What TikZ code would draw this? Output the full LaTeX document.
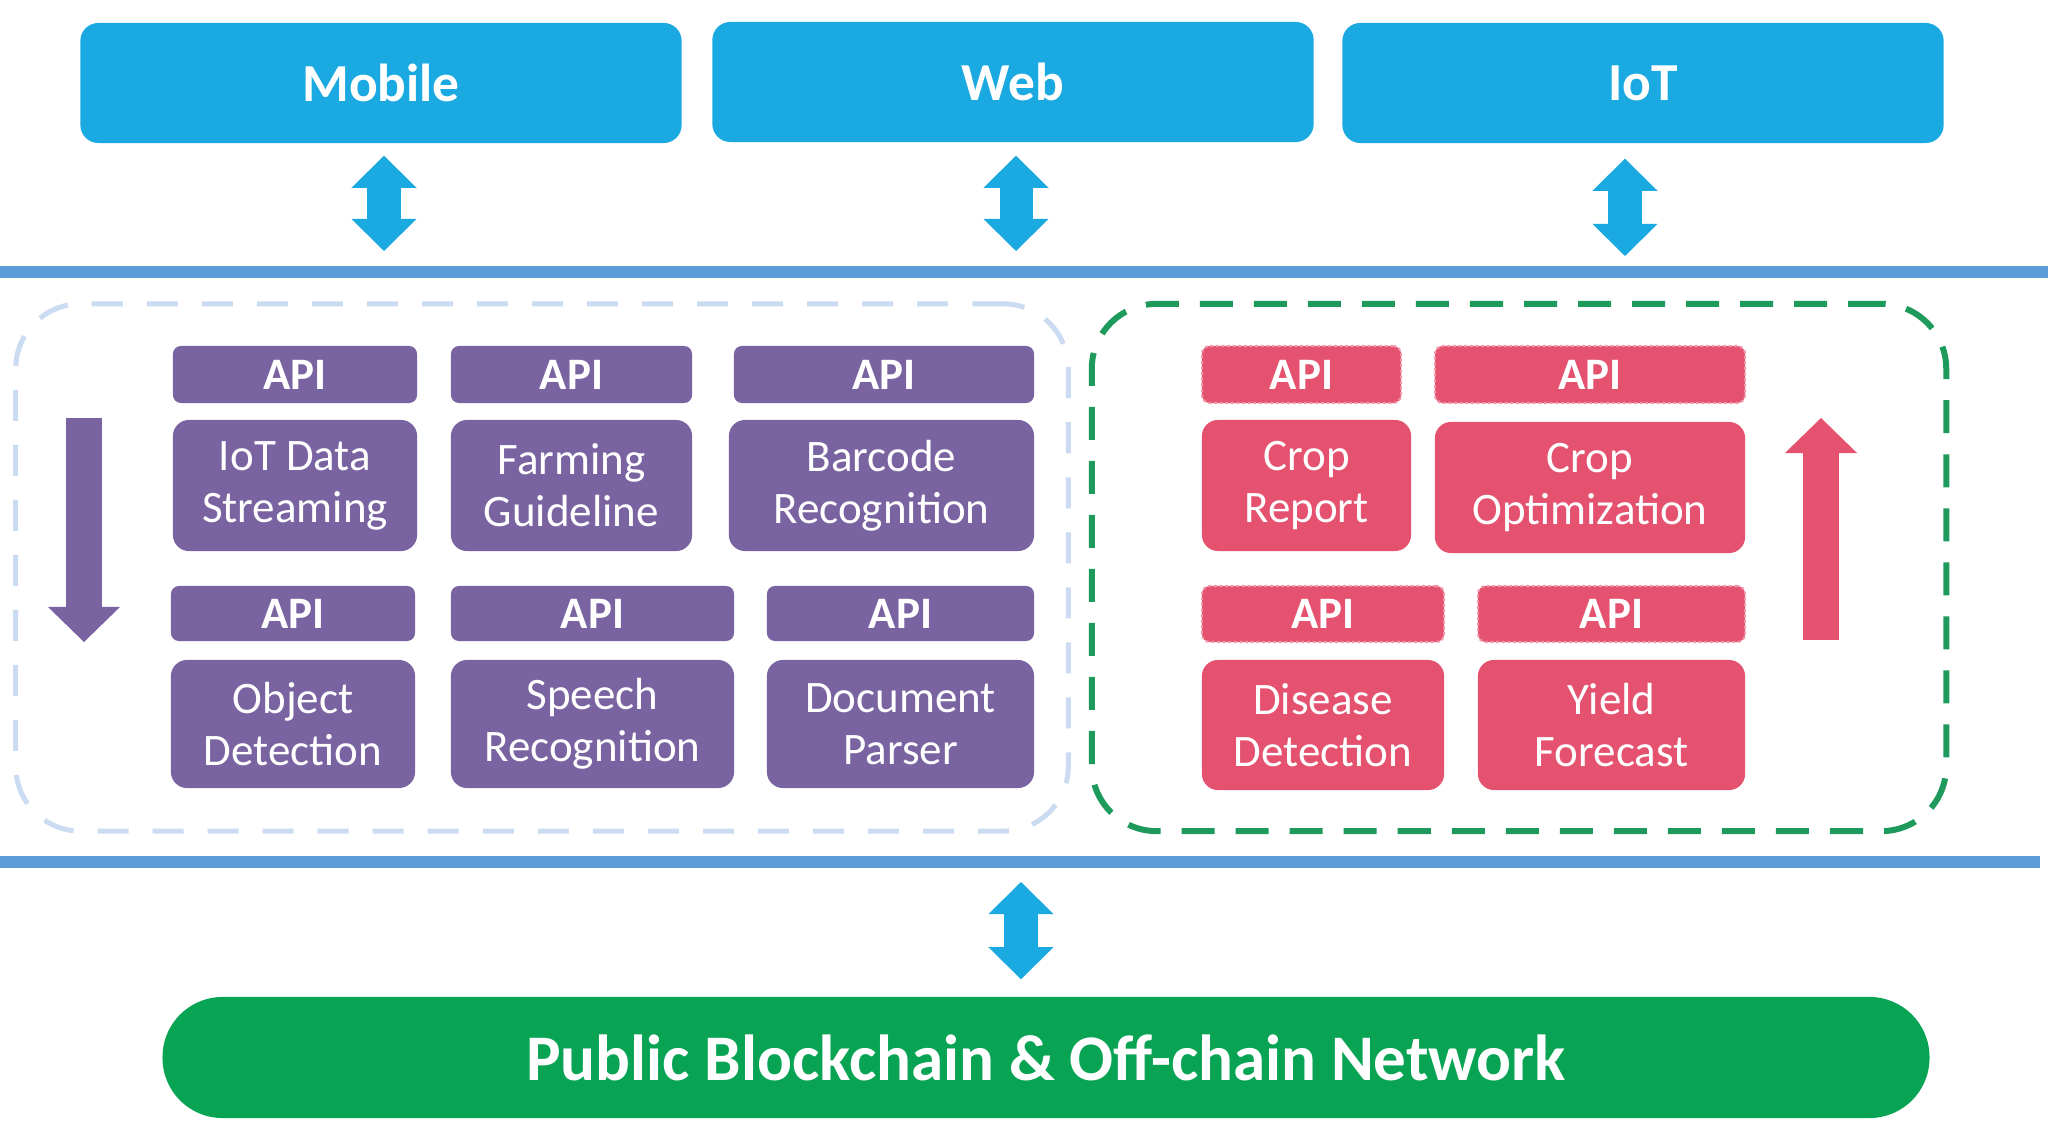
\documentclass[tikz,border=0pt]{standalone}
\usepackage{fontspec}
\setmainfont{Carlito}
\usetikzlibrary{arrows.meta}
\definecolor{topblue}{HTML}{1BA9E1}
\definecolor{busblue}{HTML}{5B9BD8}
\definecolor{svcpurple}{HTML}{7A63A1}
\definecolor{svcred}{HTML}{E4526F}
\definecolor{chaingreen}{HTML}{08A454}
\definecolor{dashblue}{HTML}{CADBF2}
\definecolor{dashgreen}{HTML}{1E9B5C}
\begin{document}
\begin{tikzpicture}[x=0.01cm,y=-0.01cm,
  topbox/.style={fill=topblue,rounded corners=1.8mm,minimum width=60.1mm,minimum height=12mm,inner sep=0pt,text=white,font=\fontsize{15.2}{18}\selectfont\bfseries},
  apibox/.style={rounded corners=0.8mm,inner sep=0pt,text=white,font=\fontsize{12.8}{14}\selectfont\bfseries},
  svcbox/.style={rounded corners=1.6mm,inner sep=0pt,align=center,text=white,font=\fontsize{12.8}{14.8}\selectfont},
  papi/.style={apibox,fill=svcpurple},
  psvc/.style={svcbox,fill=svcpurple},
  rapi/.style={apibox,fill=svcred,draw=svcred!60!white,line width=0.6pt,dash pattern=on 0.8pt off 0.8pt},
  rsvc/.style={svcbox,fill=svcred},
  busline/.style={draw=busblue,line width=1.2mm},
  dblarrow/.style={draw=topblue,line width=3.3mm,{Triangle[length=3.2mm,width=6.5mm,line width=0pt]}-{Triangle[length=3.2mm,width=6.5mm,line width=0pt]}},
  flow/.style={line width=3.6mm,-{Triangle[length=3.5mm,width=7.2mm,line width=0pt]}}
]
\useasboundingbox (0,0) rectangle (2048,1143);

\node[topbox] (mob) at (381,83) {Mobile};
\node[topbox] (web) at (1013,82) {Web};
\node[topbox] (iot) at (1643,83) {IoT};

\coordinate (busL) at (0,272);
\coordinate (busR) at (2048,272);
\coordinate (bus2L) at (0,862);
\coordinate (bus2R) at (2040,862);
\draw[busline] (busL) -- (busR);
\draw[busline] (bus2L) -- (bus2R);

\draw[dblarrow,shorten <=1.2mm,shorten >=2.1mm] ([xshift=0.3mm]mob.south) -- ([xshift=0.3mm]mob.south |- busL);
\draw[dblarrow,shorten <=1.3mm,shorten >=2.1mm] ([xshift=0.3mm]web.south) -- ([xshift=0.3mm]web.south |- busL);
\draw[dblarrow,shorten <=1.5mm,shorten >=1.6mm] ([xshift=-1.8mm]iot.south) -- ([xshift=-1.8mm]iot.south |- busL);

\node[draw=dashblue,line width=0.5mm,dash pattern=on 3.1mm off 2.4mm,rounded corners=6.5mm,minimum width=105.2mm,minimum height=52.7mm] (left) at (542,567.5) {};
\node[draw=dashgreen,line width=0.6mm,dash pattern=on 3.3mm off 2.1mm,rounded corners=6.5mm,minimum width=85.4mm,minimum height=52.7mm] (right) at (1519,567.5) {};

\node[papi,minimum width=24.4mm,minimum height=5.7mm] (a1) at (295,374.5) {API};
\node[papi,minimum width=24.1mm,minimum height=5.7mm] (a2) at (571.5,374.5) {API};
\node[papi,minimum width=30mm,minimum height=5.7mm] (a3) at (884,374.5) {API};
\node[psvc,minimum width=24.4mm,minimum height=13.1mm] (s1) at (295,485.5) {IoT Data\\Streaming};
\node[psvc,minimum width=24.1mm,minimum height=13.1mm] (s2) at (571.5,485.5) {Farming\\Guideline};
\node[psvc,minimum width=30.5mm,minimum height=13.1mm] (s3) at (881.5,485.5) {Barcode\\Recognition};
\node[papi,minimum width=24.4mm,minimum height=5.5mm] (a4) at (293,613.5) {API};
\node[papi,minimum width=28.3mm,minimum height=5.5mm] (a5) at (592.5,613.5) {API};
\node[papi,minimum width=26.7mm,minimum height=5.5mm] (a6) at (900.5,613.5) {API};
\node[psvc,minimum width=24.4mm,minimum height=12.8mm] (s4) at (293,724) {Object\\Detection};
\node[psvc,minimum width=28.3mm,minimum height=12.8mm] (s5) at (592.5,724) {Speech\\Recognition};
\node[psvc,minimum width=26.7mm,minimum height=12.8mm] (s6) at (900.5,724) {Document\\Parser};

\node[rapi,minimum width=19.9mm,minimum height=5.7mm] (a7) at (1301.5,374.5) {API};
\node[rapi,minimum width=31mm,minimum height=5.7mm] (a8) at (1590,374.5) {API};
\node[rsvc,minimum width=20.9mm,minimum height=13.1mm] (s7) at (1306.5,485.5) {Crop\\Report};
\node[rsvc,minimum width=31mm,minimum height=13.1mm] (s8) at (1590,487.5) {Crop\\Optimization};
\node[rapi,minimum width=24.2mm,minimum height=5.6mm] (a9) at (1323,614) {API};
\node[rapi,minimum width=26.7mm,minimum height=5.6mm] (a10) at (1611.5,614) {API};
\node[rsvc,minimum width=24.2mm,minimum height=13mm] (s9) at (1323,725) {Disease\\Detection};
\node[rsvc,minimum width=26.7mm,minimum height=13mm] (s10) at (1611.5,725) {Yield\\Forecast};

\coordinate (downTop) at (84,418);
\coordinate (downTip) at (84,642);
\draw[flow,draw=svcpurple] (downTop) -- (downTip);
\coordinate (upBase) at (1821,640);
\coordinate (upTip) at (1821,418);
\draw[flow,draw=svcred] (upBase) -- (upTip);

\node[fill=chaingreen,rounded corners=6mm,minimum width=176.6mm,minimum height=12.1mm,inner sep=0pt,text=white,font=\fontsize{18.5}{22}\selectfont\bfseries] (chain) at (1046,1057.5) {Public Blockchain \& Off-chain Network};

\draw[dblarrow,shorten <=2mm,shorten >=1.7mm] ([xshift=-2.5mm]chain.north |- bus2L) -- ([xshift=-2.5mm]chain.north);
\end{tikzpicture}
\end{document}
